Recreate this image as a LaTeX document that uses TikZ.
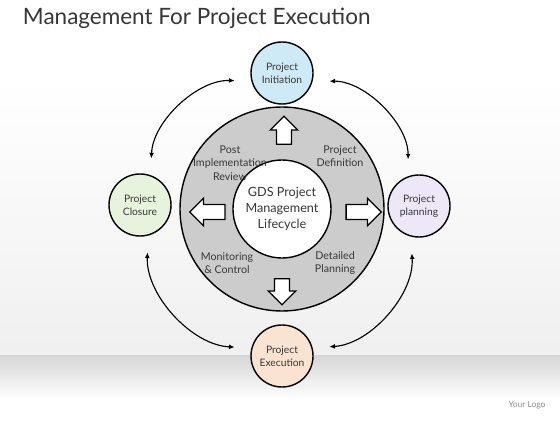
\documentclass[tikz,border=0pt]{standalone}
\usepackage{fontspec}
\setmainfont{Lato}
\usetikzlibrary{positioning, arrows.meta, shapes.arrows}

\definecolor{ringgray}{RGB}{204,204,204}
\definecolor{initblue}{RGB}{206,234,247}
\definecolor{closegreen}{RGB}{232,243,222}
\definecolor{planviolet}{RGB}{237,231,247}
\definecolor{execpeach}{RGB}{251,227,210}
\definecolor{floorgray}{RGB}{214,214,214}
\definecolor{inkgray}{RGB}{55,55,55}

\begin{document}
\begin{tikzpicture}[
    ring/.style={
        circle,
        draw=black,
        fill=ringgray,
        line width=1pt,
        minimum size=5.1cm
    },
    hub/.style={
        circle,
        draw=black,
        fill=white,
        line width=1pt,
        minimum size=2.25cm,
        font=\fontsize{9}{11.5}\selectfont,
        text=inkgray,
        align=center
    },
    phase/.style={
        circle,
        draw=black,
        line width=1pt,
        minimum size=1.55cm,
        font=\fontsize{7.3}{9.5}\selectfont,
        text=inkgray,
        align=center
    },
    steplbl/.style={
        font=\fontsize{7.6}{9.5}\selectfont,
        text=inkgray,
        align=center
    },
    blockarrow/.style={
        single arrow,
        draw=black,
        fill=white,
        line width=0.9pt,
        inner xsep=0pt,
        inner ysep=0.17cm,
        single arrow head extend=0.16cm
    },
    cyclearrow/.style={
        {Latex[length=4pt,width=3.5pt]}-{Latex[length=4pt,width=3.5pt]},
        line width=0.8pt,
        shorten <=0.42cm,
        shorten >=0.42cm
    }
]

% Background and floor
\fill[white] (0,0) rectangle (14,10.5);
\shade[top color=white, bottom color=black!6] (0,1.625) rectangle (14,8.5);
\fill[white] (0,0) rectangle (14,0.5);
\shade[top color=floorgray, bottom color=white] (0,0.5) rectangle (14,1.625);
\useasboundingbox (0,0) rectangle (14,10.5);

% Title
\node[anchor=west, font=\fontsize{16}{19}\selectfont, text=inkgray] (title) at (0.45,10.05)
    {Management For Project Execution};

% Lifecycle ring
\node[ring] (ring) at (7.05,5.275) {};
\node[hub] (hub) at (ring.center) {GDS Project\\Management\\Lifecycle};

% Block arrows
\node[blockarrow, minimum height=0.7cm, rotate=90]  (up)    at (7.1,7.15)  {};
\node[blockarrow, minimum height=0.88cm, rotate=180] (left)  at (5.275,5.2) {};
\node[blockarrow, minimum height=0.88cm]             (right) at (9.0,5.2)   {};
\node[blockarrow, minimum height=0.65cm, rotate=-90] (down)  at (7.05,3.3)  {};

% Ring labels
\node[steplbl] (review)   at (5.75,6.425)  {Post\\Implementation\\Review};
\node[steplbl] (define)   at (8.5,6.6)     {Project\\Definition};
\node[steplbl] (monitor)  at (5.675,3.925) {Monitoring\\\& Control};
\node[steplbl] (detailed) at (8.375,3.925) {Detailed\\Planning};

% Phases
\node[phase, fill=initblue]   (init)  at (7.05,8.675) {Project\\Initiation};
\node[phase, fill=closegreen] (close) at (3.5,5.375)  {Project\\Closure};
\node[phase, fill=planviolet] (plan)  at (10.475,5.35) {Project\\planning};
\node[phase, fill=execpeach]  (exec)  at (7.05,1.6)   {Project\\Execution};

% Cycle arrows
\draw[cyclearrow] (init.195) to[bend right=45] (close.70);
\draw[cyclearrow] (init.-15) to[bend left=45]  (plan.110);
\draw[cyclearrow] (close.-75) to[bend right=45] (exec.165);
\draw[cyclearrow] (plan.-105) to[bend left=45]  (exec.15);

% Logo
\node[font=\fontsize{6}{7}\selectfont, text=black!45] (logo) at (13.175,0.375) {Your Logo};

\end{tikzpicture}
\end{document}
